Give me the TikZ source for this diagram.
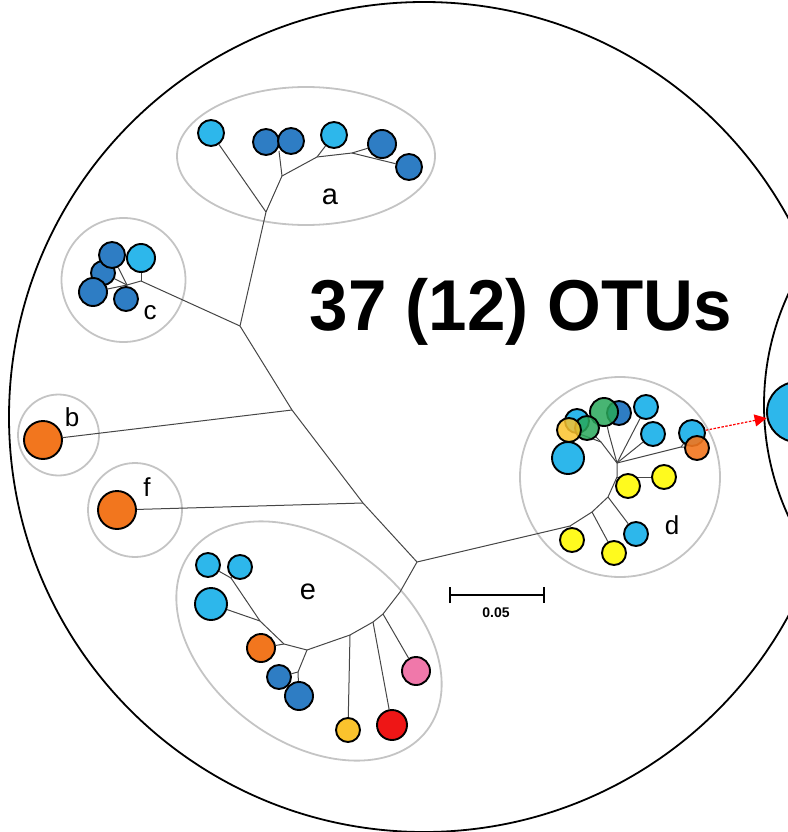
\documentclass[tikz,border=0pt]{standalone}
\usepackage{fontspec}
\setmainfont{Liberation Sans}
\usetikzlibrary{arrows.meta,backgrounds}
\definecolor{lb}{RGB}{45,183,235}
\definecolor{db}{RGB}{46,125,196}
\definecolor{orng}{RGB}{242,118,30}
\definecolor{ylw}{RGB}{255,250,30}
\definecolor{gld}{RGB}{250,195,45}
\definecolor{grn}{RGB}{40,168,90}
\definecolor{rd}{RGB}{238,22,22}
\definecolor{pnk}{RGB}{240,120,170}
\definecolor{ringgrey}{RGB}{196,196,196}
\definecolor{treeline}{RGB}{70,70,70}
\newcommand\otunode[4]{\node[otu=#1,minimum size={2*#4}] (#2) at (#3) {};}
\begin{document}
\begin{tikzpicture}[x=1pt,y=-1pt,
  otu/.style={circle,draw=black,line width=1.9pt,fill=#1,inner sep=0pt},
  branch/.style={draw=treeline,line width=1pt},
  ring/.style={draw=ringgrey,line width=1.8pt},
  lbl/.style={font=\fontsize{26}{28}\selectfont,inner sep=0pt},
  lblbig/.style={font=\fontsize{29}{30}\selectfont,inner sep=0pt},
  arrowred/.style={draw=red,line width=1.2pt,dash pattern=on 2.5pt off 1.5pt,-{Triangle[length=12pt,width=12pt]}},
]
\useasboundingbox (0,0) rectangle (787,832);

% cluster a
\otunode{lb}{a1}{211,133}{13}
\otunode{db}{a2}{266,142}{13}
\otunode{db}{a3}{291,141}{13}
\otunode{lb}{a4}{334,135}{13}
\otunode{db}{a5}{382,144}{14}
\otunode{db}{a6}{409,167}{13}
% cluster c
\otunode{db}{c3}{103,273}{12}
\otunode{db}{c1}{112,255}{13}
\otunode{db}{c4}{93,292}{14}
\otunode{lb}{c2}{141,258}{14}
\otunode{db}{c5}{126,299}{12}
% b and f
\otunode{orng}{bo}{43,440}{19}
\otunode{orng}{fo}{117,510}{19}
% cluster d
\otunode{lb}{dhid}{577,421}{12}
\otunode{db}{ddb}{619,413}{12}
\node[otu=grn,fill opacity=0.85,minimum size=28] (dgb) at (604,412) {};
\node[otu=grn,fill opacity=0.85,minimum size=24] (dgs) at (587,428) {};
\node[otu=gld,fill opacity=0.85,minimum size=24] (dgold) at (569,430) {};
\otunode{lb}{dlb}{568,458}{16}
\otunode{lb}{dlt}{646,407}{12}
\otunode{lb}{dlm}{653,434}{12}
\otunode{lb}{dlp}{692,433}{13}
\node[otu=orng,fill opacity=0.9,minimum size=24] (dor) at (697,448) {};
\otunode{ylw}{dy3}{628,486}{12}
\otunode{ylw}{dy4}{664,477}{12}
\otunode{lb}{dl1}{636,534}{12}
\otunode{ylw}{dy1}{572,540}{12}
\otunode{ylw}{dy2}{614,553}{12}
% cluster e
\otunode{lb}{elb1}{208,565}{12}
\otunode{lb}{elb2}{240,567}{12}
\otunode{lb}{elb3}{211,604}{16}
\otunode{orng}{eor}{261,648}{14}
\otunode{db}{edb1}{279,677}{12}
\otunode{db}{edb2}{299,696}{14}
\otunode{gld}{egd}{348,730}{12}
\otunode{rd}{erd}{392,725}{15}
\otunode{pnk}{epk}{416,671}{14}
% right-hand OTU
\otunode{lb}{rb}{797,412}{30}

\begin{scope}[on background layer]
  \draw[line width=1.8pt] (424,417) circle[radius=415];
  \draw[line width=1.8pt] (1029,405) circle[radius=265];
  \draw[ring] (306,156) ellipse[x radius=129,y radius=69];
  \draw[ring] (123.5,280) circle[radius=62];
  \draw[ring] (58.5,435) circle[radius=40.5];
  \draw[ring] (135,510) circle[radius=47];
  \draw[ring] (620,477) circle[radius=100];
  \draw[ring,rotate around={-37:(309,641)}] (309,641) ellipse[x radius=148,y radius=100];

  % junctions
  \coordinate (T1) at (240,326);
  \coordinate (T2) at (292,410);
  \coordinate (T3) at (363,503);
  \coordinate (T4) at (417,562);
  \coordinate (A0) at (266,212);
  \coordinate (A1) at (282,176);
  \coordinate (A1t) at (279,151);
  \coordinate (A2) at (317,157);
  \coordinate (A3) at (352,153);
  \coordinate (C0) at (141,281);
  \coordinate (C1) at (127,285);
  \coordinate (D1) at (570,526);
  \coordinate (D2) at (592,512);
  \coordinate (D3) at (608,497);
  \coordinate (D4) at (617,477);
  \coordinate (D5) at (617,463);
  \coordinate (Dg) at (601,442);
  \coordinate (Dh) at (609,434);
  \coordinate (Dp) at (681,447);
  \coordinate (E1) at (400,592);
  \coordinate (Ep) at (383,614);
  \coordinate (Er) at (373,622);
  \coordinate (Eg) at (350,635);
  \coordinate (Ej) at (307,650);
  \coordinate (Eo) at (284,644);
  \coordinate (Em) at (260,621);
  \coordinate (Ef) at (231,578);
  \coordinate (Ed) at (298,672);

  % trunk
  \draw[branch] (A0) -- (T1) -- (T2) -- (T3) -- (T4);
  \draw[branch] (T2) -- (bo);
  \draw[branch] (T3) -- (fo);
  % a
  \draw[branch] (A0) -- (a1);
  \draw[branch] (A0) -- (A1) -- (A2) -- (A3) -- (a6);
  \draw[branch] (A1) -- (A1t);
  \draw[branch] (A2) -- (a4);
  \draw[branch] (A3) -- (a5);
  % c
  \draw[branch] (T1) -- (C0) -- (C1);
  \draw[branch] (C0) -- (c2);
  \draw[branch] (C1) -- (c1);
  \draw[branch] (C1) -- (c3);
  \draw[branch] (C1) -- (c4);
  \draw[branch] (C1) -- (c5);
  % d
  \draw[branch] (T4) -- (D1) -- (D2) -- (D3) -- (D4) -- (D5);
  \draw[branch] (D1) -- (dy1);
  \draw[branch] (D2) -- (dy2);
  \draw[branch] (D3) -- (dl1);
  \draw[branch] (D4) -- (dy4);
  \draw[branch] (D5) -- (Dg) -- (dgold);
  \draw[branch] (Dg) -- (dgs);
  \draw[branch] (D5) -- (Dh) -- (dgb);
  \draw[branch] (D5) -- (dlt);
  \draw[branch] (D5) -- (dlm);
  \draw[branch] (D5) -- (Dp) -- (dlp);
  \draw[branch] (Dp) -- (dor);
  % e
  \draw[branch] (T4) -- (E1) -- (Ep) -- (Er) -- (Eg) -- (Ej) -- (Eo) -- (Em) -- (Ef) -- (elb2);
  \draw[branch] (Ep) -- (epk);
  \draw[branch] (Er) -- (erd);
  \draw[branch] (Eg) -- (egd);
  \draw[branch] (Eo) -- (eor);
  \draw[branch] (Em) -- (elb3);
  \draw[branch] (Ef) -- (elb1);
  \draw[branch] (Ej) -- (Ed) -- (edb2);
  \draw[branch] (Ed) -- (edb1);
\end{scope}

\draw[arrowred] (dlp) -- (rb);

% labels
\node[lblbig] (la) at (330,197) {a};
\node[lbl] (lb) at (72,417) {b};
\node[lbl] (lc) at (150,313) {c};
\node[lbl] (ld) at (672,525) {d};
\node[lblbig] (le) at (308,592) {e};
\node[lbl] (lf) at (147,487) {f};

\node[font=\bfseries\fontsize{72}{80}\selectfont,anchor=base,inner sep=0pt,xscale=0.96] (title) at (521,330) {37 (12) OTUs};

% scale bar
\coordinate (s1) at (449,595);
\coordinate (s2) at (545,595);
\draw[line width=1.6pt,{Bar[width=16pt]}-{Bar[width=16pt]}] (s1) -- (s2);
\node[font=\bfseries\fontsize{14}{16}\selectfont,inner sep=0pt] (sbl) at (496,613) {0.05};
\end{tikzpicture}
\end{document}
